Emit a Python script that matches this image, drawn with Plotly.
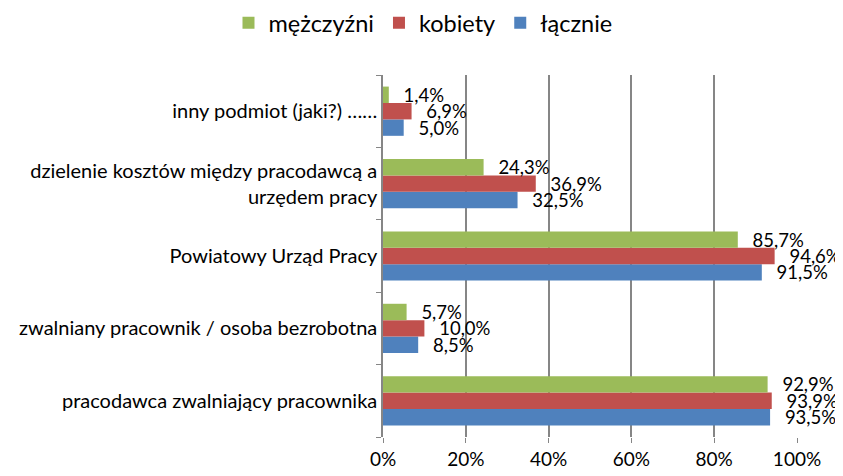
import plotly.graph_objects as go

categories = [
    "pracodawca zwalniający pracownika",
    "zwalniany pracownik / osoba bezrobotna",
    "Powiatowy Urząd Pracy",
    "dzielenie kosztów między pracodawcą a<br>urzędem pracy",
    "inny podmiot (jaki?) ……",
]
lacznie = [93.5, 8.5, 91.5, 32.5, 5.0]
kobiety = [93.9, 10.0, 94.6, 36.9, 6.9]
mezczyzni = [92.9, 5.7, 85.7, 24.3, 1.4]
x_ticks = [0, 20, 40, 60, 80, 100]
x_tick_labels = ["0%", "20%", "40%", "60%", "80%", "100%"]

def fmt(vals):
    return ["\u00a0\u00a0\u2009" + f"{v:.1f}%".replace(".", ",") for v in vals]

font_family = "Lato, 'Open Sans', sans-serif"

fig = go.Figure()
for name, vals, color in [
    ("łącznie", lacznie, "#4F81BD"),
    ("kobiety", kobiety, "#C0504D"),
    ("mężczyźni", mezczyzni, "#9BBB59"),
]:
    fig.add_trace(go.Bar(
        y=categories, x=vals, name=name, orientation="h",
        marker=dict(color=color, line=dict(width=0)),
        text=fmt(vals), textposition="outside", cliponaxis=False,
        constraintext="none",
        textfont=dict(size=18.5, color="#000000", family=font_family),
    ))

# page body has an 8px default margin, so the figure is sized/offset to compensate
fig.update_layout(
    width=835, height=468,
    barmode="group", bargap=0.32, bargroupgap=0,
    plot_bgcolor="white", paper_bgcolor="white",
    margin=dict(l=375, r=46, t=67, b=39, autoexpand=False),
    font=dict(family=font_family, color="#000000"),
    legend=dict(
        orientation="h", traceorder="reversed",
        xref="container", yref="container",
        x=0.497, xanchor="center", y=0.968, yanchor="middle",
        font=dict(size=23.5), itemwidth=30,
    ),
    showlegend=True,
)
fig.update_xaxes(
    range=[0, 100], tickvals=x_ticks, ticktext=x_tick_labels,
    showgrid=True, gridcolor="#868686", gridwidth=1.5,
    ticks="outside", ticklen=5, tickcolor="#868686",
    tickfont=dict(size=19), showline=False, zeroline=False,
    automargin=False,
)
fig.update_yaxes(
    showline=True, linecolor="#868686", linewidth=1.5,
    ticks="outside", ticklen=5, tickcolor="#868686", tickson="boundaries",
    tickfont=dict(size=20), showgrid=False, automargin=False,
)
fig.write_html("out.html")
